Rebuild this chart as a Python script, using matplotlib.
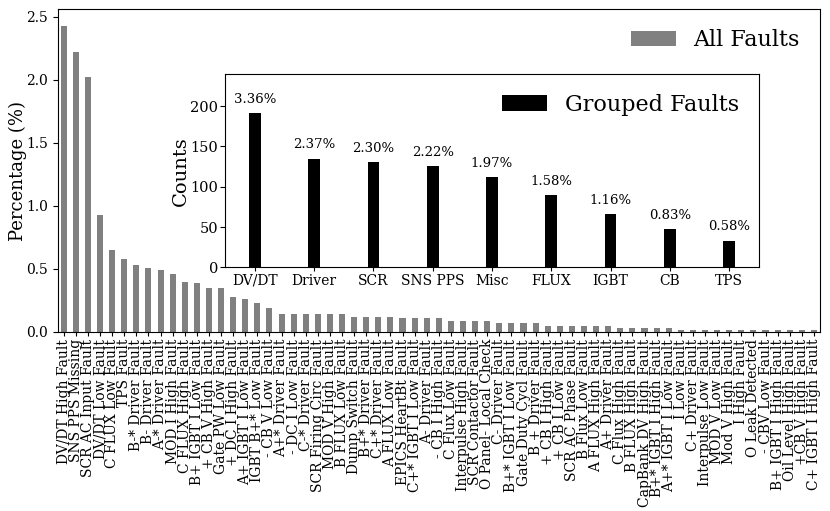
import numpy as np
import matplotlib
matplotlib.use('Agg')
import matplotlib.pyplot as plt

plt.rcParams['font.family'] = 'DejaVu Serif'

## all faults (percentage of pulses)

fault_names = ['DV/DT High Fault', 'SNS PPS Missing', 'SCR AC Input Fault', 'DV/DT Low Fault',
               'C FLUX Low Fault', 'TPS Fault', 'B-* Driver Fault', 'B- Driver Fault',
               'A-* Driver Fault', 'MOD I High Fault', 'C FLUX High Fault', 'B+ IGBT I Low Fault',
               '+ CB V High Fault', 'Gate PW Low Fault', '+ DC I High Fault', 'A+ IGBT I Low Fault',
               'IGBT B+* Low Fault', '- CB V Low Fault', 'A+* Driver Fault', '- DC I Low Fault',
               'C-* Driver Fault', 'SCR Firing Circ Fault', 'MOD V High Fault', 'B FLUX Low Fault',
               'Dump Switch Fault', 'B+* Driver Fault', 'C+* Driver Fault', 'A FLUX Low Fault',
               'EPICS HeartBt Fault', 'C+* IGBT I Low Fault', 'A- Driver Fault', '- CB I High Fault',
               'C Flux Low Fault', 'Interpulse High Fault', 'SCR Contactor Fault', 'O Panel- Local Check',
               'C- Driver Fault', 'B+* IGBT I Low Fault', 'Gate Duty Cycl Fault', 'B + Driver Fault',
               '+ CB I High Fault', '+ CB I Low Fault', 'SCR AC Phase Fault', 'B Flux Low Fault',
               'A FLUX High Fault', 'A+ Driver Fault', 'C Flux High Fault', 'B FLUX High Fault',
               'CapBank DV High Fault', 'B+* IGBT I High Fault', 'A+* IGBT I Low Fault', 'I Low Fault',
               'C+ Driver Fault', 'Interpulse Low Fault', 'MOD V Low Fault', 'Mod V High Fault',
               'I High Fault', 'O Leak Detected', '- CBV Low Fault', 'B+ IGBT I High Fault',
               'Oil Level High Fault', '+CB V High Fault', 'C+ IGBT I High Fault']

fault_pct = [2.43, 2.22, 2.02, 0.93, 0.65, 0.58, 0.53, 0.51, 0.49, 0.46,
             0.40, 0.39, 0.35, 0.35, 0.28, 0.26, 0.23, 0.19, 0.14, 0.14,
             0.14, 0.14, 0.14, 0.14, 0.12, 0.12, 0.12, 0.12, 0.11, 0.11,
             0.11, 0.11, 0.09, 0.09, 0.09, 0.09, 0.07, 0.07, 0.07, 0.07,
             0.05, 0.05, 0.05, 0.05, 0.05, 0.05, 0.035, 0.035, 0.035, 0.035,
             0.035, 0.018, 0.018, 0.018, 0.018, 0.018, 0.018, 0.018, 0.018, 0.018,
             0.018, 0.018, 0.018]

## grouped faults

group_names = ['DV/DT', 'Driver', 'SCR', 'SNS PPS', 'Misc', 'FLUX', 'IGBT', 'CB', 'TPS']
group_counts = [191, 135, 131, 126, 112, 90, 66, 47, 33]
group_pct = ['3.36%', '2.37%', '2.30%', '2.22%', '1.97%', '1.58%', '1.16%', '0.83%', '0.58%']

fig = plt.figure(figsize=(8.3, 5.11), dpi=100)

ax = fig.add_axes([0.0695, 0.3503, 0.9184, 0.6315])
x = np.arange(len(fault_names))
ax.bar(x, fault_pct, width=0.5, color='grey', label='All Faults')
ax.set_xticks(x)
ax.set_xticklabels(fault_names, rotation=90, fontsize=10)
ax.set_xlim(-0.5, len(fault_names) - 0.5)
ax.set_ylim(0, 2.56)
ax.tick_params(axis='y', labelsize=10)
ax.tick_params(axis='x', length=3, pad=2)
ax.set_ylabel('Percentage (%)', fontsize=13, labelpad=-1)
ax.legend(loc='upper right', frameon=False, fontsize=16)

# inset with grouped counts
ax2 = fig.add_axes([0.2714, 0.4769, 0.6427, 0.3783])
xg = np.arange(len(group_names))
ax2.bar(xg, group_counts, width=0.2, color='black', label='Grouped Faults')
for xi, c, p in zip(xg, group_counts, group_pct):
    ax2.text(xi, c + 9, p, ha='center', va='bottom', fontsize=9.5)
ax2.set_xticks(xg)
ax2.set_xticklabels(group_names, fontsize=10)
ax2.set_xlim(-0.5, len(group_names) - 0.5)
ax2.set_ylim(0, 240)
ax2.set_yticks([0, 50, 100, 150, 200])
ax2.tick_params(axis='y', labelsize=10.5, pad=1.5)
ax2.tick_params(axis='x', length=3, pad=1.5)
ax2.set_ylabel('Counts', fontsize=14, labelpad=0)
ax2.legend(loc='upper right', frameon=False, fontsize=16)

fig.savefig('out.png', dpi=100)
